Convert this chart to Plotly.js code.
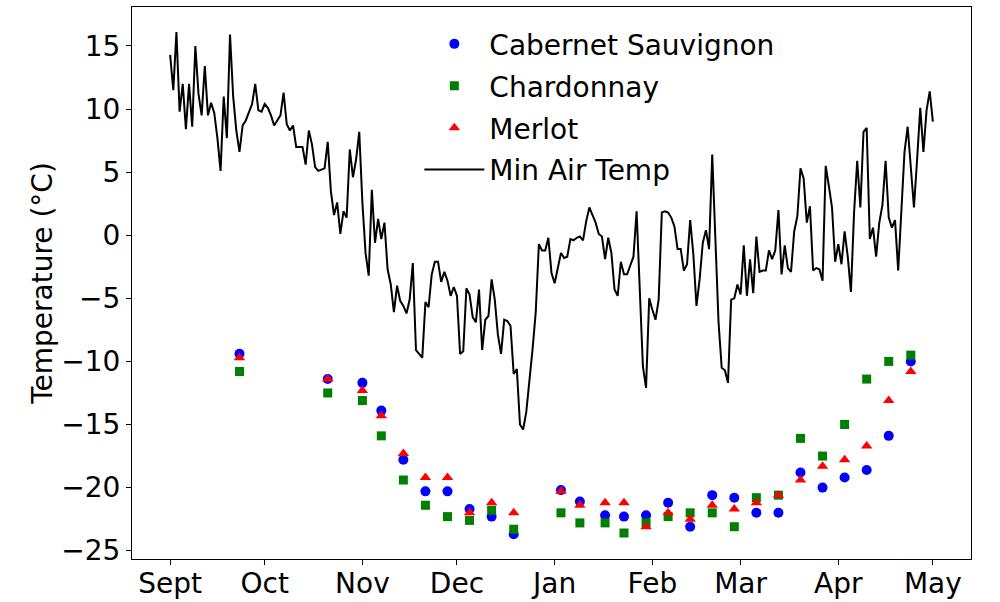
<!DOCTYPE html>
<html>
<head>
<meta charset="utf-8">
<script src="https://cdn.plot.ly/plotly-3.0.1.min.js"></script>
<style>
  html, body { margin: 0; padding: 0; background: #fff; }
  #chart { width: 1000px; height: 602px; }
</style>
</head>
<body>
<div id="chart"></div>
<script>
// daily minimum air temperature, 1 Sept through 1 May
const airStart = '2021-09-01';
const airTemp = [
    14.3, 11.5, 16.1, 9.8, 12.0, 8.4, 12.0, 8.6, 15.0, 11.2,
    9.5, 13.4, 9.5, 10.5, 9.7, 7.7, 5.1, 11.0, 7.7, 15.9,
    11.0, 8.3, 6.6, 8.7, 9.1, 9.8, 10.4, 12.0, 9.9, 9.8,
    10.4, 10.1, 9.5, 8.7, 9.1, 9.5, 11.3, 8.8, 8.3, 8.7,
    7.0, 7.0, 7.0, 5.6, 8.3, 7.2, 5.4, 5.1, 5.2, 5.3,
    7.4, 3.5, 1.6, 2.6, 0.1, 1.9, 1.4, 6.8, 4.6, 6.0,
    8.2, 2.6, -1.4, -3.2, 3.6, -0.6, 1.3, -0.3, 1.0, -2.7,
    -3.9, -6.1, -4.0, -5.2, -5.6, -6.2, -5.1, -2.2, -9.1, -9.4,
    -9.7, -5.3, -5.7, -3.1, -2.1, -2.1, -3.7, -2.9, -3.6, -4.8,
    -4.1, -4.8, -9.4, -9.2, -4.2, -4.7, -6.5, -6.9, -4.3, -9.1,
    -6.7, -6.4, -3.5, -5.1, -7.9, -9.4, -6.7, -6.8, -7.2, -11.0,
    -10.6, -15.0, -15.4, -14.0, -11.7, -9.0, -6.1, -0.7, -1.2, -1.2,
    -0.2, -3.0, -3.8, -2.7, -1.4, -1.8, -1.7, -0.3, -0.4, -0.2,
    -0.1, -0.4, 1.1, 2.2, 1.6, 1.0, 0.1, -0.1, -1.9, -0.2,
    -1.4, -4.3, -4.8, -2.1, -3.1, -3.1, -2.4, -1.7, 1.9, -4.0,
    -10.4, -12.1, -5.0, -5.9, -6.7, -5.1, 1.8, 1.9, 1.8, 1.4,
    0.7, -1.1, -1.1, -2.8, -2.3, 1.2, -1.5, -5.6, -3.5, -0.6,
    0.4, -1.1, 6.4, -0.3, -6.9, -10.5, -10.7, -11.7, -5.1, -5.0,
    -3.9, -4.7, -0.8, -4.8, -1.9, -4.6, -0.1, -2.9, -2.8, -2.8,
    -1.2, -1.9, -1.2, 2.0, -3.1, -0.8, -2.6, -2.9, 0.3, 1.5,
    5.3, 4.5, 1.0, 2.3, -2.8, -2.6, -2.7, -3.6, 5.5, 3.9,
    2.2, -2.1, -0.7, -2.3, 0.3, -1.7, -4.5, 1.8, 5.9, 2.2,
    8.2, 8.5, -0.3, 0.6, -1.7, 1.0, 2.4, 5.9, 1.4, 0.6,
    1.2, -2.8, 1.8, 6.6, 8.6, 5.5, 2.2, 6.0, 10.1, 6.6,
    9.9, 11.4, 9.0
];

// bud hardiness sample dates and values
const sampleDates = [
    '2021-09-23', '2021-10-21', '2021-11-01', '2021-11-07', '2021-11-14',
    '2021-11-21', '2021-11-28', '2021-12-05', '2021-12-12', '2021-12-19',
    '2022-01-03', '2022-01-09', '2022-01-17', '2022-01-23', '2022-01-30',
    '2022-02-06', '2022-02-13', '2022-02-20', '2022-02-27', '2022-03-06',
    '2022-03-13', '2022-03-20', '2022-03-27', '2022-04-03', '2022-04-10',
    '2022-04-17', '2022-04-24'
];
const cabernet = [
    -9.4, -11.4, -11.7, -13.9, -17.8, -20.3, -20.3, -21.7, -22.3, -23.7,
    -20.2, -21.1, -22.2, -22.3, -22.2, -21.2, -23.1, -20.6, -20.8, -22.0,
    -22.0, -18.8, -20.0, -19.2, -18.6, -15.9, -10.0
];
const chardonnay = [
    -10.8, -12.5, -13.1, -15.9, -19.4, -21.4, -22.3, -22.6, -21.8, -23.3,
    -22.0, -22.8, -22.8, -23.6, -22.8, -22.3, -22.0, -22.0, -23.1, -20.8,
    -20.6, -16.1, -17.5, -15.0, -11.4, -10.0, -9.5
];
const merlot = [
    -9.7, -11.4, -12.3, -14.3, -17.3, -19.2, -19.2, -22.0, -21.2, -22.0,
    -20.3, -21.4, -21.2, -21.2, -23.1, -22.0, -22.5, -21.4, -21.7, -21.2,
    -20.6, -19.4, -18.3, -17.8, -16.7, -13.1, -10.8
];

const monthTicks = [
    '2021-09-01', '2021-10-01', '2021-11-01', '2021-12-01', '2022-01-01',
    '2022-02-01', '2022-03-01', '2022-04-01', '2022-05-01'
];
const monthLabels = ['Sept', 'Oct', 'Nov', 'Dec', 'Jan', 'Feb', 'Mar', 'Apr', 'May'];

function dayList(start, n) {
    const out = [];
    const t0 = Date.parse(start + 'T00:00:00Z');
    for (let i = 0; i < n; i += 1) {
        out.push(new Date(t0 + i * 86400000).toISOString().slice(0, 10));
    }
    return out;
}

const FONT = 'DejaVu Sans, Liberation Sans, sans-serif';
const FSIZE = 28;

const scatterTrace = (name, y, color, symbol, size) => ({
    type: 'scatter',
    mode: 'markers',
    name: name,
    legendgroup: name,
    x: sampleDates,
    y: y,
    marker: { color: color, symbol: symbol, size: size, line: { width: 0 } },
    hoverinfo: 'skip',
});

const traces = [
    scatterTrace('Cabernet Sauvignon', cabernet, 'blue', 'circle', 10),
    scatterTrace('Chardonnay', chardonnay, 'green', 'square', 9),
    scatterTrace('Merlot', merlot, 'red', 'triangle-up', 10),
    {
        type: 'scatter',
        mode: 'lines',
        name: 'Min Air Temp',
        legendgroup: 'air',
        x: dayList(airStart, airTemp.length),
        y: airTemp,
        line: { color: 'black', width: 2 },
        hoverinfo: 'skip',
    },
];

const axisCommon = {
    showline: true,
    mirror: true,
    linecolor: 'black',
    linewidth: 1,
    showgrid: false,
    zeroline: false,
    ticks: 'outside',
    ticklen: 5,
    tickwidth: 1,
    tickcolor: 'black',
    tickfont: { family: FONT, size: FSIZE, color: 'black' },
};

const layout = {
    width: 1000,
    height: 602,
    margin: { l: 132, r: 29, t: 7, b: 43 },
    paper_bgcolor: 'white',
    plot_bgcolor: 'white',
    font: { family: FONT, size: FSIZE, color: 'black' },
    showlegend: true,
    legend: {
        x: 0.3425,
        xanchor: 'left',
        y: 0.978,
        yanchor: 'top',
        bgcolor: 'rgba(0,0,0,0)',
        borderwidth: 0,
        font: { family: FONT, size: FSIZE, color: 'black' },
        itemwidth: 60,
        traceorder: 'grouped',
        tracegroupgap: 2.5,
    },
    xaxis: {
        ...axisCommon,
        type: 'date',
        range: ['2021-08-19 21:36', '2022-05-13 02:24'],
        tickmode: 'array',
        tickvals: monthTicks,
        ticktext: monthLabels,
        ticklabelstandoff: -6,
    },
    yaxis: {
        ...axisCommon,
        range: [-25.66, 18.09],
        tickmode: 'linear',
        tick0: 0,
        dtick: 5,
        title: { text: 'Temperature (°C)', standoff: 0, font: { family: FONT, size: FSIZE, color: 'black' } },
    },
};

Plotly.newPlot('chart', traces, layout, { staticPlot: true, displayModeBar: false });
</script>
</body>
</html>
